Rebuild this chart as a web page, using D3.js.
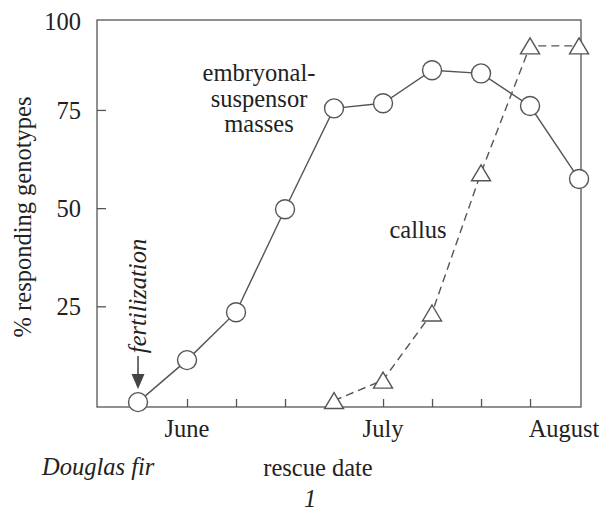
<!DOCTYPE html>
<html>
<head>
<meta charset="utf-8">
<script src="https://cdn.jsdelivr.net/npm/d3@7"></script>
<style>
  body { margin: 0; background: #fff; }
  svg text { font-family: "Liberation Serif", "DejaVu Serif", "Noto Serif", "Times New Roman", Times, serif; fill: #222; }
</style>
</head>
<body>
<div id="chart"></div>
<script>
// weekly rescue dates, week 0 = fertilization
var esmWeeks = [0, 1, 2, 3, 4, 5, 6, 7, 8, 9];
var esmValues = [0.6, 11.3, 23.5, 49.7, 75.4, 76.7, 85.1, 84.3, 76, 57.4];
var callusWeeks = [4, 5, 6, 7, 8, 9];
var callusValues = [1, 6.2, 23.3, 59, 91.3, 91.3];
var xTickWeeks = [1, 2, 3, 4, 5, 6, 7, 8];
var monthWeeks = [1, 5, 9];
var monthLabels = ["June", "July", "August"];
var yTicks = [25, 50, 75];

var svgWidth = 600;
var svgHeight = 511;
var plot = { left: 97, right: 581, top: 20, bottom: 407 };
var ink = "#555";
var fs = "24.5px";

var svg = d3.select("#chart")
  .append("svg")
  .attr("width", svgWidth)
  .attr("height", svgHeight);

var xScale = d3.scaleLinear().domain([-0.837, 9.04]).range([plot.left, plot.right]);
var yScale = d3.scaleLinear().domain([0, 97.9]).range([404.5, plot.top]);

// frame
svg.append("rect")
  .attr("x", plot.left).attr("y", plot.top)
  .attr("width", plot.right - plot.left).attr("height", plot.bottom - plot.top)
  .attr("fill", "none").attr("stroke", ink).attr("stroke-width", 1.3);

// y axis ticks (inside)
var yAxis = svg.append("g")
  .attr("transform", `translate(${plot.left},0)`)
  .call(d3.axisRight(yScale).tickValues(yTicks).tickSize(9).tickFormat(""));
yAxis.select(".domain").remove();
yAxis.selectAll("line").attr("stroke", ink).attr("stroke-width", 1.3);

svg.selectAll(".ylab")
  .data(yTicks)
  .enter()
  .append("text")
  .attr("class", "ylab")
  .attr("x", 81)
  .attr("y", d => yScale(d))
  .attr("dy", "0.35em")
  .attr("text-anchor", "end")
  .style("font-size", fs)
  .text(d => d);

svg.append("text")
  .attr("x", 81).attr("y", plot.top + 1).attr("dy", "0.35em")
  .attr("text-anchor", "end")
  .style("font-size", fs)
  .text("100");

// x axis ticks (inside)
var xAxis = svg.append("g")
  .attr("transform", `translate(0,${plot.bottom})`)
  .call(d3.axisTop(xScale).tickValues(xTickWeeks).tickSize(8).tickFormat(""));
xAxis.select(".domain").remove();
xAxis.selectAll("line").attr("stroke", ink).attr("stroke-width", 1.3);

svg.selectAll(".xlab")
  .data(monthWeeks)
  .enter()
  .append("text")
  .attr("class", "xlab")
  .attr("x", (d, i) => xScale(d) + (i == 2 ? -15 : 0))
  .attr("y", 437)
  .attr("text-anchor", "middle")
  .style("font-size", fs)
  .text((d, i) => monthLabels[i]);

// callus line (dashed)
var lineC = d3.line()
  .x((d, i) => xScale(callusWeeks[i]))
  .y(d => yScale(d));

svg.append("path")
  .datum(callusValues)
  .attr("d", lineC)
  .attr("fill", "none")
  .attr("stroke", ink)
  .attr("stroke-width", 1.4)
  .attr("stroke-dasharray", "8,5");

// embryonal-suspensor masses line
var lineE = d3.line()
  .x((d, i) => xScale(esmWeeks[i]))
  .y(d => yScale(d));

svg.append("path")
  .datum(esmValues)
  .attr("d", lineE)
  .attr("fill", "none")
  .attr("stroke", ink)
  .attr("stroke-width", 1.4);

svg.selectAll(".tri")
  .data(callusValues)
  .enter()
  .append("path")
  .attr("class", "tri")
  .attr("d", "M0,-8L9.5,8L-9.5,8Z")
  .attr("transform", (d, i) => `translate(${xScale(callusWeeks[i])},${yScale(d)})`)
  .attr("fill", "#fff")
  .attr("stroke", ink)
  .attr("stroke-width", 1.4);

svg.selectAll(".dot")
  .data(esmValues)
  .enter()
  .append("circle")
  .attr("class", "dot")
  .attr("cx", (d, i) => xScale(esmWeeks[i]))
  .attr("cy", d => yScale(d))
  .attr("r", 9.5)
  .attr("fill", "#fff")
  .attr("stroke", ink)
  .attr("stroke-width", 1.4);

// labels
var esmLabel = svg.append("text")
  .attr("text-anchor", "middle")
  .style("font-size", fs);
["embryonal-", "suspensor", "masses"].forEach(function(t, i) {
  esmLabel.append("tspan").attr("x", 259).attr("y", 81 + i * 25.5).text(t);
});

svg.append("text")
  .attr("x", 418).attr("y", 238)
  .attr("text-anchor", "middle")
  .style("font-size", fs)
  .text("callus");

// fertilization arrow
var fx = xScale(esmWeeks[0]);
svg.append("line")
  .attr("x1", fx).attr("x2", fx)
  .attr("y1", 356).attr("y2", 378)
  .attr("stroke", "#333").attr("stroke-width", 1.4);
svg.append("path")
  .attr("d", `M${fx - 6.5},374L${fx + 6.5},374L${fx},389Z`)
  .attr("fill", "#444");

svg.append("text")
  .attr("transform", `translate(${fx + 8},296) rotate(-90)`)
  .attr("text-anchor", "middle")
  .style("font-size", fs)
  .style("font-style", "italic")
  .text("fertilization");

// axis titles
svg.append("text")
  .attr("transform", "translate(31,217) rotate(-90)")
  .attr("text-anchor", "middle")
  .style("font-size", fs)
  .text("% responding genotypes");

svg.append("text")
  .attr("x", 318).attr("y", 476)
  .attr("text-anchor", "middle")
  .style("font-size", fs)
  .text("rescue date");

svg.append("text")
  .attr("x", 42).attr("y", 475)
  .style("font-size", fs)
  .style("font-style", "italic")
  .text("Douglas fir");

svg.append("text")
  .attr("x", 310).attr("y", 507)
  .attr("text-anchor", "middle")
  .style("font-size", fs)
  .style("font-style", "italic")
  .text("1");
</script>
</body>
</html>
